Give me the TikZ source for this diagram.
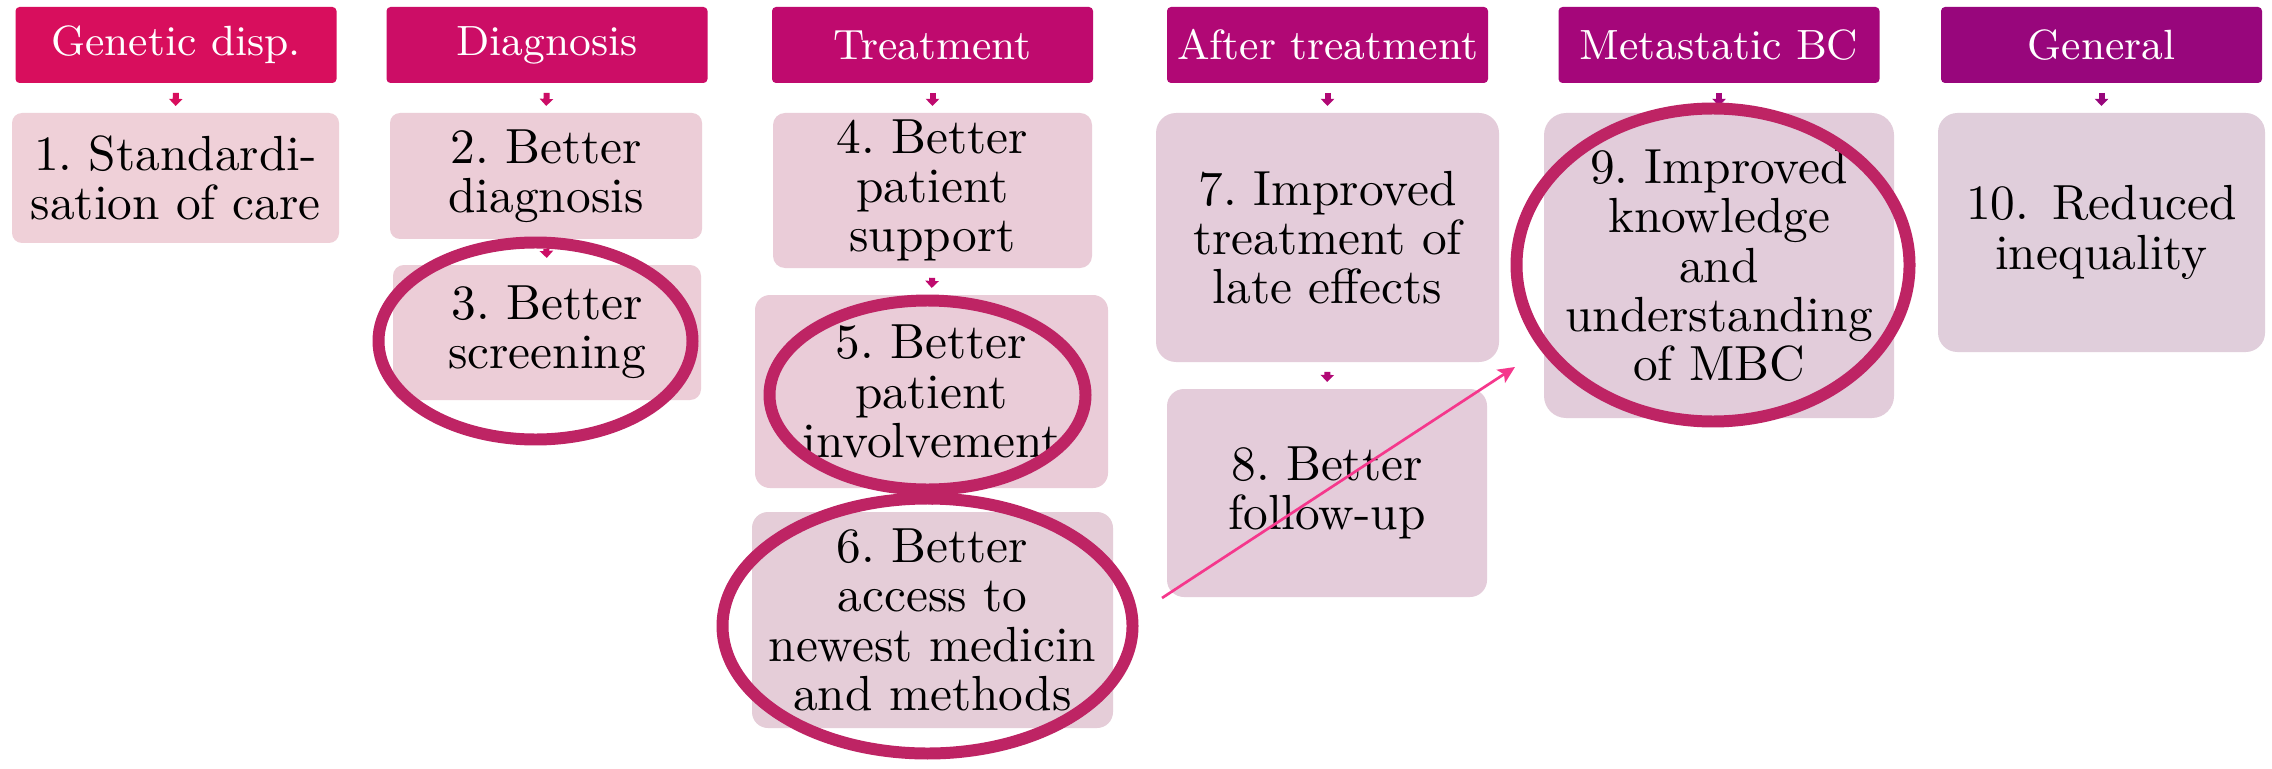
\documentclass[tikz,border=0pt]{standalone}
\usetikzlibrary{arrows.meta}
\definecolor{hdA}{RGB}{216,14,93}
\definecolor{hdB}{RGB}{204,13,102}
\definecolor{hdC}{RGB}{191,10,110}
\definecolor{hdD}{RGB}{177,8,117}
\definecolor{hdE}{RGB}{165,6,122}
\definecolor{hdF}{RGB}{152,6,124}
\definecolor{bxA}{RGB}{239,208,216}
\definecolor{bxB}{RGB}{236,205,215}
\definecolor{bxC}{RGB}{234,204,216}
\definecolor{bxD}{RGB}{229,205,216}
\definecolor{bxE}{RGB}{228,204,218}
\definecolor{bxF}{RGB}{226,204,218}
\definecolor{bxG}{RGB}{224,206,219}
\definecolor{ringc}{RGB}{190,36,100}
\definecolor{pinkc}{RGB}{245,55,140}
\newcommand\pxl[1]{#1*0.2128pt}
\begin{document}
\frenchspacing
\begin{tikzpicture}[x=0.2128pt,y=-0.2128pt,
  hdr/.style={fill=#1, text=white, rounded corners=0.85pt, inner sep=0pt,
    minimum width=\pxl{321}, minimum height=\pxl{76},
    font=\fontsize{9}{9.5}\selectfont},
  itembox/.style={fill=#1, inner sep=0pt, align=center,
    font=\fontsize{10.5}{10.5}\selectfont},
  conn/.style={draw=#1, line width=1.28pt,
    -{Triangle[length=1.5pt,width=2.8pt]},
    shorten <=1.9pt, shorten >=1.3pt},
  ring/.style={draw=ringc, line width=2.55pt},
  pinkarrow/.style={draw=pinkc, line width=0.57pt,
    -{Stealth[length=3.6pt,width=3.3pt,inset=0.8pt]}}
]
\fill[white] (0,0) rectangle (2272,769);
\useasboundingbox (0,0) rectangle (2272,769);

% headers
\node[hdr=hdA] (h1) at (176,45) {Genetic disp.};
\node[hdr=hdB] (h2) at (547,45) {Diagnosis};
\node[hdr=hdC] (h3) at (932.5,45) {Treatment};
\node[hdr=hdD] (h4) at (1327.5,45) {After treatment};
\node[hdr=hdE] (h5) at (1719,45) {Metastatic BC};
\node[hdr=hdF] (h6) at (2101.5,45) {General};

% boxes
\node[itembox=bxA, minimum width=\pxl{327}, minimum height=\pxl{130}, rounded corners=2.13pt]
  (b1) at (175.5,178) {1. Standardi-\\sation of care};
\node[itembox=bxB, minimum width=\pxl{312}, minimum height=\pxl{126}, rounded corners=2.13pt]
  (b2) at (546,176) {2. Better\\diagnosis};
\node[itembox=bxB, minimum width=\pxl{308}, minimum height=\pxl{135}, rounded corners=2.3pt]
  (b3) at (547,332.5) {3. Better\\screening};
\node[itembox=bxC, minimum width=\pxl{319}, minimum height=\pxl{155}, rounded corners=2.55pt]
  (b4) at (932.5,190.5) {4. Better\\patient\\support};
\node[itembox=bxC, minimum width=\pxl{353}, minimum height=\pxl{193}, rounded corners=3.19pt]
  (b5) at (931.5,391.5) {5. Better\\patient\\involvement};
\node[itembox=bxD, minimum width=\pxl{361}, minimum height=\pxl{216}, rounded corners=3.4pt]
  (b6) at (932.5,620) {6. Better\\access to\\newest medicin\\and methods};
\node[itembox=bxE, minimum width=\pxl{343}, minimum height=\pxl{249}, rounded corners=4.26pt]
  (b7) at (1327.5,237.5) {7. Improved\\treatment of\\late effects};
\node[itembox=bxE, minimum width=\pxl{320}, minimum height=\pxl{208}, rounded corners=3.62pt]
  (b8) at (1327,493) {8. Better\\follow-up};
\node[itembox=bxF, minimum width=\pxl{350}, minimum height=\pxl{305}, rounded corners=4.7pt]
  (b9) at (1719,265.5) {9. Improved\\knowledge\\and\\understanding\\of MBC};
\node[itembox=bxG, minimum width=\pxl{327}, minimum height=\pxl{239}, rounded corners=4.1pt]
  (b10) at (2101.5,232.5) {10.\hspace{5pt}Reduced\\inequality};

% small connectors
\draw[conn=hdA] (h1.south) -- (b1.north);
\draw[conn=hdB] (h2.south) -- (b2.north);
\draw[conn=hdB] (b2.south) -- (b3.north);
\draw[conn=hdC] (h3.south) -- (b4.north);
\draw[conn=hdC] (b4.south) -- (b5.north);
\draw[conn=hdC] (b5.south) -- (b6.north);
\draw[conn=hdD] (h4.south) -- (b7.north);
\draw[conn=hdD] (b7.south) -- (b8.north);
\draw[conn=hdE] (h5.south) -- (b9.north);
\draw[conn=hdF] (h6.south) -- (b10.north);

% highlight rings
\draw[ring] (535.5,341) ellipse [x radius=157, y radius=98.5];
\draw[ring] (927.5,395) ellipse [x radius=158, y radius=94.5];
\draw[ring] (927.5,626) ellipse [x radius=205, y radius=127.5];
\draw[ring] (1713,265) ellipse [x radius=196.5, y radius=156.5];

% pink arrow
\coordinate (pa) at (1162,598);
\coordinate (pb) at (1515,367);
\draw[pinkarrow] (pa) -- (pb);
\end{tikzpicture}
\end{document}
